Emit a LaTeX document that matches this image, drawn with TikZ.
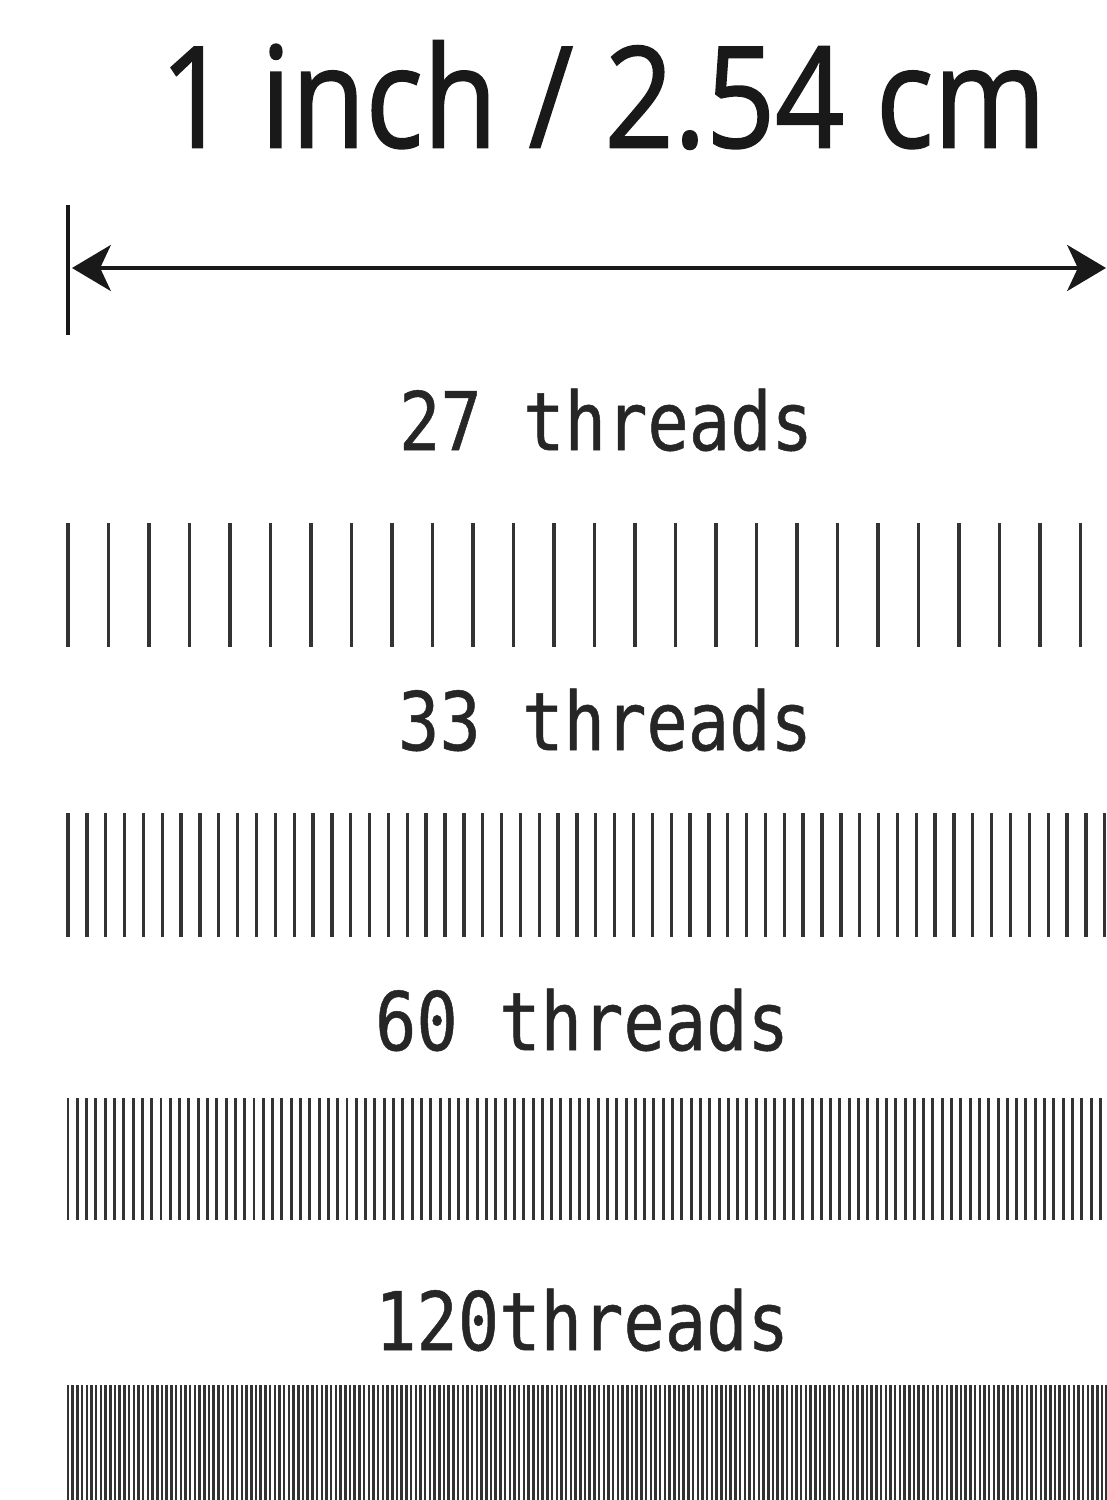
\documentclass[tikz,border=0pt]{standalone}
\usepackage{fontspec}
\usepackage{tikz}
\usetikzlibrary{arrows.meta}
\newfontfamily\titlefont[FakeStretch=0.86, FakeBold=1.2]{Open Sans}
\newfontfamily\monofont[FakeStretch=0.85, FakeBold=0.6]{DejaVu Sans Mono}
\tikzset{
  thread/.style={draw=black!80, line cap=butt},
  label/.style={font=\monofont\fontsize{23}{23}\selectfont, text=black!85, inner sep=0pt},
}
\begin{document}
\begin{tikzpicture}[x=0.01cm, y=-0.01cm]
                \useasboundingbox[fill=white] (0,0) rectangle (1106,1500);
                % title and the inch arrow
                \node[font=\titlefont\fontsize{40}{40}\selectfont, text=black!90, inner sep=0pt] (title) at (603,95) {1 inch / 2.54 cm};
                \coordinate (bartop) at (68,205);
                \coordinate (barbot) at (68,335);
                \coordinate (left) at (72,268);
                \coordinate (right) at (1106,268);
                \draw[black!90, line width=1.2pt] (bartop) -- (barbot);
                \draw[black!90, line width=1.4pt, {Stealth[length=11pt, width=13pt, inset=3pt]}-{Stealth[length=11pt, width=13pt, inset=3pt]}] (left) -- (right);
                % thread counts
                \node[label] (t27) at (606,420) {27 threads};
                \node[label] (t33) at (605,720) {33 threads};
                \node[label] (t60) at (582,1020) {60 threads};
                \node[label] (t120) at (582,1320) {120threads};
                \foreach \k in {0,...,26}
                \draw[thread, line width=1.05pt] (68+40.5*\k,523) -- (68+40.5*\k,647);
                \foreach \k in {0,...,55}
                \draw[thread, line width=0.95pt] (68+18.85*\k,813) -- (68+18.85*\k,937);
                \foreach \k in {0,...,112}
                \draw[thread, line width=0.85pt] (68+9.3*\k,1098) -- (68+9.3*\k,1220);
                \foreach \k in {0,...,221}
                \draw[thread, line width=0.7pt] (68+4.7*\k,1385) -- (68+4.7*\k,1500);
            \end{tikzpicture}
\end{document}
